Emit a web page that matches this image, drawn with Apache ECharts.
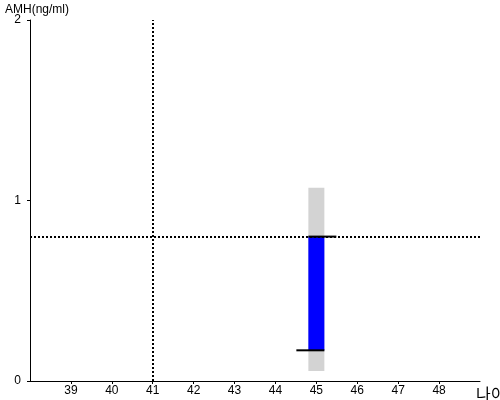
<!DOCTYPE html>
<html>
<head>
<meta charset="utf-8">
<script src="https://cdn.jsdelivr.net/npm/echarts@6/dist/echarts.min.js"></script>
<style>html,body{margin:0;padding:0;background:#fff}#c{width:500px;height:400px}</style>
</head>
<body>
<div id="c"></div>
<script>
var xTicks = [39, 40, 41, 42, 43, 44, 45, 46, 47, 48];
var yTicks = [0, 1, 2];
var age = [45];
var rangeLow = [0.055];
var rangeHigh = [1.07];
var barLow = [0.17];
var barHigh = [0.80];
var refAge = 41;
var refAmh = 0.80;

var chart = echarts.init(document.getElementById('c'));
var data = age.map(function (a, i) { return [a, rangeLow[i], rangeHigh[i], barLow[i], barHigh[i]]; });

chart.setOption({
  animation: false,
  title: { text: 'AMH(ng/ml)', left: 5, top: 4, padding: 0, textStyle: { fontFamily: 'Liberation Sans, Arial', fontSize: 12, fontWeight: 'normal', color: '#000' } },
  grid: { left: 30, right: 20, top: 20, bottom: 19, containLabel: false, outerBoundsMode: 'none' },
  xAxis: {
    type: 'value', min: 38, max: 49, interval: 1,
    name: '나이', nameLocation: 'end', nameGap: -4,
    nameTextStyle: { fontSize: 16, color: '#000', verticalAlign: 'top', padding: [5, 0, 0, 0], fontFamily: 'Noto Sans CJK KR' },
    axisLine: { lineStyle: { color: '#000', width: 1 } },
    axisTick: { show: true, length: 3, customValues: xTicks, lineStyle: { color: '#000' } },
    axisLabel: { color: '#000', fontSize: 12, fontFamily: 'Liberation Sans, Arial', margin: 4, customValues: xTicks },
    splitLine: { show: false }
  },
  yAxis: {
    type: 'value', min: 0, max: 2, interval: 1,
    axisLine: { show: true, lineStyle: { color: '#000', width: 1 } },
    axisTick: { show: true, length: 3, customValues: yTicks, lineStyle: { color: '#000' } },
    axisLabel: { color: '#000', fontSize: 12, fontFamily: 'Liberation Sans, Arial', margin: 9, customValues: yTicks },
    splitLine: { show: false }
  },
  series: [{
    type: 'custom',
    data: data,
    encode: { x: 0, y: [1, 2] },
    renderItem: function (params, api) {
      var x = api.value(0);
      var pLow = api.coord([x, api.value(1)]);
      var pHigh = api.coord([x, api.value(2)]);
      var bLow = api.coord([x, api.value(3)]);
      var bHigh = api.coord([x, api.value(4)]);
      var hw = 8;
      return { type: 'group', children: [
        { type: 'rect', shape: { x: pHigh[0] - hw, y: pHigh[1], width: hw * 2, height: pLow[1] - pHigh[1] }, style: { fill: '#d3d3d3' } },
        { type: 'rect', shape: { x: bHigh[0] - hw, y: bHigh[1], width: hw * 2, height: bLow[1] - bHigh[1] }, style: { fill: '#0000ff' } },
        { type: 'line', shape: { x1: bHigh[0] - hw, y1: bHigh[1], x2: bHigh[0] + hw + 12, y2: bHigh[1] }, style: { stroke: '#000', lineWidth: 2 } },
        { type: 'line', shape: { x1: bLow[0] - hw - 12, y1: bLow[1], x2: bLow[0] + hw, y2: bLow[1] }, style: { stroke: '#000', lineWidth: 2 } }
      ] };
    },
    markLine: {
      silent: true, symbol: 'none', label: { show: false },
      lineStyle: { color: '#000', type: [2, 2], width: 2 },
      data: [{ xAxis: refAge }, { yAxis: refAmh }]
    },
    z: 2
  }]
});
</script>
</body>
</html>
